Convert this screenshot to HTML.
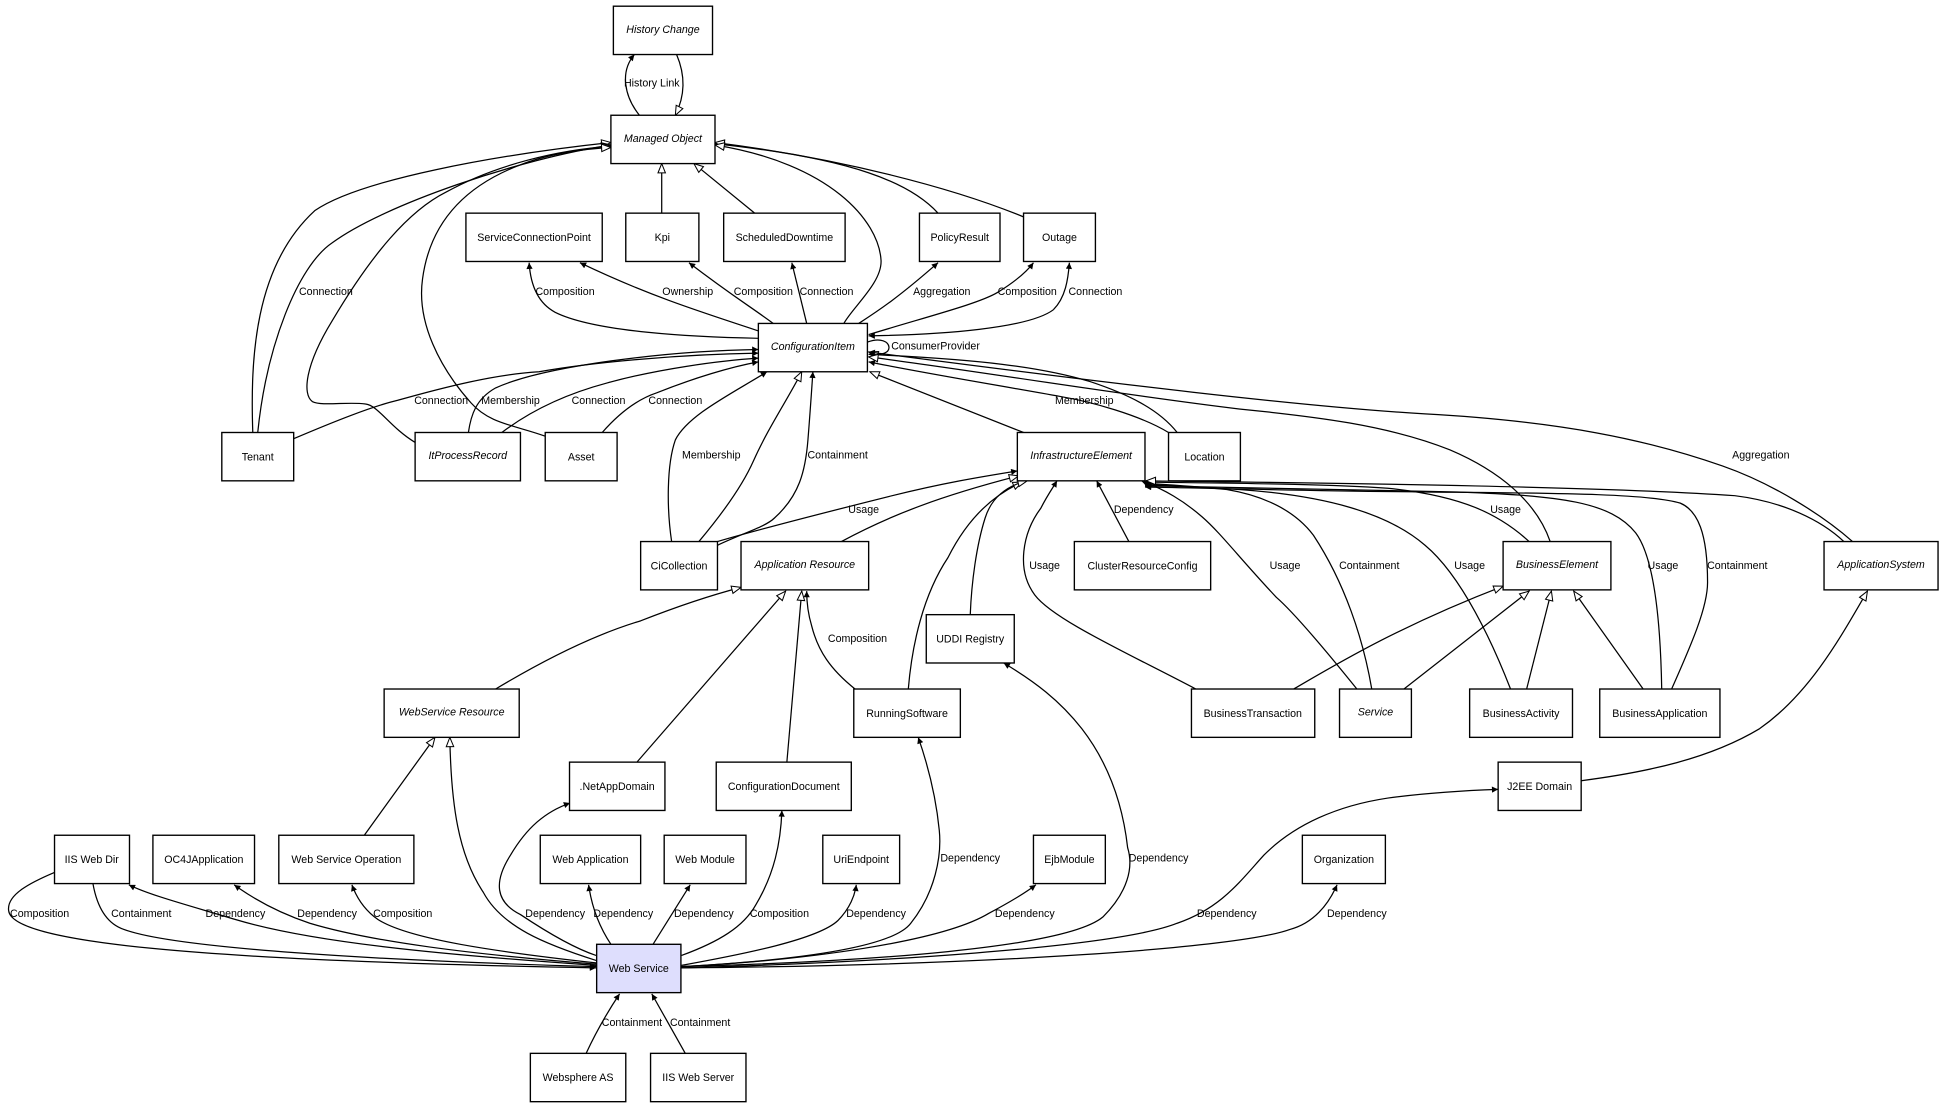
<!DOCTYPE html>
<html><head><meta charset="utf-8"><style>
html,body{margin:0;padding:0;background:#fff;}
svg{display:block;}
</style></head><body>
<svg xmlns="http://www.w3.org/2000/svg" width="1943" height="1108" viewBox="0 0 1568 894.1" preserveAspectRatio="none">
<defs>
<marker id="f" viewBox="0 0 10 10" refX="10" refY="5" markerWidth="6.5" markerHeight="5" markerUnits="userSpaceOnUse" orient="auto"><path d="M0,0 L10,5 L0,10 z" fill="#000"/></marker>
<marker id="h" viewBox="0 0 12 10" refX="11" refY="5" markerWidth="11" markerHeight="7.5" markerUnits="userSpaceOnUse" orient="auto"><path d="M1,1 L11,5 L1,9 z" fill="#fff" stroke="#000" stroke-width="1.1"/></marker>
</defs>
<rect x="0" y="0" width="1568" height="894.1" fill="#fff"/>
<g fill="none" stroke="#000" stroke-width="1">
<!-- top -->
<path d="M516,93 C504,78 500,58 512,44" marker-end="url(#f)"/>
<path d="M546,44 C552,58 554,75 545,93" marker-end="url(#h)"/>
<path d="M534,172 L534,132" marker-end="url(#h)"/>
<path d="M609,172 L560,132" marker-end="url(#h)"/>
<path d="M757,172 C735,148 690,128 577,116" marker-end="url(#h)"/>
<path d="M826,175 C770,152 680,128 577,115" marker-end="url(#h)"/>
<path d="M681,261 C688,248 712,228 711,210 C709,178 670,132 577,117" marker-end="url(#h)"/>
<path d="M204,349 C202,290 205,215 254,170 C290,145 400,125 493,115" marker-end="url(#h)"/>
<path d="M208,349 C215,280 240,215 268,196 C310,165 420,128 493,117" marker-end="url(#h)"/>
<path d="M335,357 C315,345 305,327 295,326 C280,324 260,328 252,324 C244,318 246,295 268,259 C300,205 330,170 360,155 C400,133 450,121 493,118" marker-end="url(#h)"/>
<path d="M440,352 C415,343 395,342 380,325 C355,297 336,260 341,225 C347,180 375,150 420,133 C440,125 470,120 493,119" marker-end="url(#h)"/>
<!-- CI up -->
<path d="M612,273 C560,272 480,268 448,252 C433,244 428,228 427,212" marker-end="url(#f)"/>
<path d="M612,267 C560,250 520,237 468,212" marker-end="url(#f)"/>
<path d="M624,261 C605,247 590,238 556,212" marker-end="url(#f)"/>
<path d="M651,261 L639,212" marker-end="url(#f)"/>
<path d="M693,261 C710,250 725,240 757,212" marker-end="url(#f)"/>
<path d="M701,270 C750,255 790,245 805,236 C818,228 828,220 834,212" marker-end="url(#f)"/>
<path d="M850,250 C830,265 760,270 701,271" marker-end="url(#f)"/>
<path d="M850,250 C860,240 862,225 863,212" marker-end="url(#f)"/>
<path d="M700,276 C722,268 724,292 701,284" marker-end="url(#h)"/>
<!-- into CI left -->
<path d="M237,354 C270,340 300,328 321,323 C360,312 400,302 435,300 C480,292 550,286 612,285" marker-end="url(#f)"/>
<path d="M378,349 C380,335 384,322 400,313 C440,295 540,283 612,282" marker-end="url(#f)"/>
<path d="M405,349 C430,330 460,317 490,309 C530,298 580,291 612,289" marker-end="url(#f)"/>
<path d="M486,349 C500,333 515,322 530,317 C560,305 590,296 612,292" marker-end="url(#f)"/>
<!-- into CI bottom -->
<path d="M542,437 C538,410 538,375 545,355 C555,335 590,318 619,300" marker-end="url(#f)"/>
<path d="M564,437 C585,412 600,390 608,372 C620,345 637,320 647,300" marker-end="url(#h)"/>
<path d="M579,440 C600,430 618,425 625,418 C645,400 650,380 652,355 C654,330 655,315 656,300" marker-end="url(#f)"/>
<path d="M826,349 L702,300" marker-end="url(#h)"/>
<!-- into CI right -->
<path d="M943,349 C920,335 880,324 856,320 C800,310 740,300 701,292" marker-end="url(#f)"/>
<path d="M950,349 C935,330 910,318 880,308 C840,296 790,290 701,286" marker-end="url(#f)"/>
<path d="M1251,437 C1240,405 1210,380 1170,363 C1120,343 1060,336 1000,330 C900,318 780,298 701,288" marker-end="url(#h)"/>
<path d="M1495,437 C1470,415 1430,390 1390,376 C1330,355 1260,340 1150,334 C1050,328 900,310 701,284" marker-end="url(#f)"/>
<!-- into IE -->
<path d="M579,437 C620,425 680,410 720,400 C760,390 790,385 821,380" marker-end="url(#f)"/>
<path d="M679,437 C720,415 760,400 822,384" marker-end="url(#h)"/>
<path d="M733,556 C736,520 745,480 765,450 C780,420 800,400 825,389" marker-end="url(#h)"/>
<path d="M783,496 C784,470 788,440 795,418 C800,402 812,392 829,388" marker-end="url(#h)"/>
<path d="M965,556 C910,527 850,500 835,480 C820,460 825,430 840,410 C845,400 850,393 853,388" marker-end="url(#f)"/>
<path d="M911,437 L885,388" marker-end="url(#f)"/>
<path d="M1095,556 C1070,525 1045,495 1030,482 C1000,450 985,430 970,417 C955,404 940,395 921,388" marker-end="url(#f)"/>
<path d="M1107,556 C1100,515 1085,470 1060,432 C1045,412 1020,400 990,395 C960,392 940,391 924,390" marker-end="url(#f)"/>
<path d="M1219,556 C1205,520 1180,465 1150,440 C1120,414 1070,400 1000,395 C960,393 940,392 924,391" marker-end="url(#f)"/>
<path d="M1234,437 C1210,415 1180,400 1120,394 C1060,390 980,390 924,389" marker-end="url(#f)"/>
<path d="M1341,556 C1340,500 1335,450 1320,430 C1300,405 1260,400 1176,397 C1080,395 980,393 924,392" marker-end="url(#f)"/>
<path d="M1349,556 C1365,520 1378,490 1378,470 C1378,430 1370,412 1356,406 C1330,398 1250,398 1150,397 C1050,396 980,394 924,393" marker-end="url(#f)"/>
<path d="M1488,437 C1470,420 1440,405 1400,400 C1300,393 1100,390 925,388" marker-end="url(#h)"/>
<!-- into AR -->
<path d="M400,556 C440,532 480,512 517,501 C545,490 575,480 598,474" marker-end="url(#h)"/>
<path d="M514,615 L634,477" marker-end="url(#h)"/>
<path d="M635,615 L647,477" marker-end="url(#h)"/>
<path d="M690,556 C670,540 660,525 655,505 C652,495 651,485 651,477" marker-end="url(#f)"/>
<!-- into BE / AS -->
<path d="M1044,556 C1080,535 1130,505 1213,473" marker-end="url(#h)"/>
<path d="M1133,556 L1234,477" marker-end="url(#h)"/>
<path d="M1232,556 L1252,477" marker-end="url(#h)"/>
<path d="M1326,556 L1270,477" marker-end="url(#h)"/>
<path d="M1276,630 C1330,623 1380,612 1420,588 C1460,560 1485,515 1507,477" marker-end="url(#h)"/>
<!-- into WSR -->
<path d="M294,674 L351,595" marker-end="url(#h)"/>
<path d="M481,775 C440,762 405,748 390,720 C370,690 364,650 363,595" marker-end="url(#h)"/>
<!-- Web Service edges -->
<path d="M44,704 C25,712 5,722 7,735 C10,760 150,775 481,781" marker-end="url(#f)"/>
<path d="M75,713 C78,730 85,745 100,750 C140,765 300,775 481,780" marker-end="url(#f)"/>
<path d="M481,779 C350,770 250,760 190,742 C150,730 120,722 104,714" marker-end="url(#f)"/>
<path d="M481,778 C380,770 300,760 250,745 C220,735 200,722 189,714" marker-end="url(#f)"/>
<path d="M481,777 C400,768 330,758 305,742 C295,735 288,725 284,714" marker-end="url(#f)"/>
<path d="M481,771 C460,764 435,748 420,738 C400,728 398,712 412,690 C425,668 440,655 460,648" marker-end="url(#f)"/>
<path d="M493,762 C485,750 478,735 475,714" marker-end="url(#f)"/>
<path d="M527,762 L557,714" marker-end="url(#f)"/>
<path d="M550,771 C580,760 600,748 610,730 C625,705 630,680 631,654" marker-end="url(#f)"/>
<path d="M550,779 C600,770 660,758 676,743 C686,733 690,722 691,714" marker-end="url(#f)"/>
<path d="M550,780 C640,775 720,765 735,745 C755,720 760,690 758,670 C755,640 748,615 741,595" marker-end="url(#f)"/>
<path d="M550,780 C650,775 760,760 798,737 C815,728 828,720 836,714" marker-end="url(#f)"/>
<path d="M550,780 C700,776 860,765 890,740 C910,720 915,700 910,684 C905,640 890,610 873,588 C855,565 835,550 810,535" marker-end="url(#f)"/>
<path d="M550,781 C700,777 900,765 950,745 C985,733 1000,712 1020,690 C1045,665 1080,650 1120,644 C1150,640 1180,638 1209,637" marker-end="url(#f)"/>
<path d="M550,781 C800,779 1000,765 1041,750 C1060,745 1072,730 1079,714" marker-end="url(#f)"/>
<path d="M473,850 C480,835 488,820 500,802" marker-end="url(#f)"/>
<path d="M553,850 L526,802" marker-end="url(#f)"/>
</g>

<!-- nodes -->
<g stroke="#000" stroke-width="1.1" fill="#fff">
<rect x="495" y="5" width="80" height="39"/>
<rect x="493" y="93" width="84" height="39"/>
<rect x="376" y="172" width="110" height="39"/>
<rect x="505" y="172" width="59" height="39"/>
<rect x="584" y="172" width="98" height="39"/>
<rect x="742" y="172" width="65" height="39"/>
<rect x="826" y="172" width="58" height="39"/>
<rect x="612" y="261" width="88" height="39"/>
<rect x="179" y="349" width="58" height="39"/>
<rect x="335" y="349" width="85" height="39"/>
<rect x="440" y="349" width="58" height="39"/>
<rect x="821" y="349" width="103" height="39"/>
<rect x="943" y="349" width="58" height="39"/>
<rect x="517" y="437" width="62" height="39"/>
<rect x="598" y="437" width="103" height="39"/>
<rect x="867" y="437" width="110" height="39"/>
<rect x="1213" y="437" width="87" height="39"/>
<rect x="1472" y="437" width="92" height="39"/>
<rect x="747.5" y="496" width="71" height="39"/>
<rect x="310" y="556" width="109" height="39"/>
<rect x="689" y="556" width="86" height="39"/>
<rect x="961.5" y="556" width="99.5" height="39"/>
<rect x="1081" y="556" width="58" height="39"/>
<rect x="1186" y="556" width="83" height="39"/>
<rect x="1291" y="556" width="97" height="39"/>
<rect x="459.6" y="615" width="77" height="39"/>
<rect x="578" y="615" width="109" height="39"/>
<rect x="1209" y="615" width="67" height="39"/>
<rect x="44" y="674" width="60.5" height="39"/>
<rect x="123.4" y="674" width="82" height="39"/>
<rect x="225" y="674" width="109" height="39"/>
<rect x="436" y="674" width="81" height="39"/>
<rect x="536" y="674" width="66" height="39"/>
<rect x="664" y="674" width="62" height="39"/>
<rect x="834" y="674" width="58" height="39"/>
<rect x="1051" y="674" width="67" height="39"/>
<rect x="481.5" y="762" width="68" height="39" fill="#dedefd"/>
<rect x="428" y="850" width="77" height="39"/>
<rect x="525" y="850" width="77" height="39"/>
</g>

<g font-family="Liberation Sans, Arial, sans-serif" font-size="8.6" fill="#000" text-anchor="middle">
<g font-style="italic">
<text x="535" y="26.5">History Change</text>
<text x="535" y="114.5">Managed Object</text>
<text x="656" y="282.5">ConfigurationItem</text>
<text x="377.5" y="370.5">ItProcessRecord</text>
<text x="872.5" y="370.5">InfrastructureElement</text>
<text x="649.5" y="458.5">Application Resource</text>
<text x="1256.5" y="458.5">BusinessElement</text>
<text x="1518" y="458.5">ApplicationSystem</text>
<text x="364.5" y="577.5">WebService Resource</text>
<text x="1110" y="577.5">Service</text>
</g>
<text x="431" y="194.5">ServiceConnectionPoint</text>
<text x="534.5" y="194.5">Kpi</text>
<text x="633" y="194.5">ScheduledDowntime</text>
<text x="774.5" y="194.5">PolicyResult</text>
<text x="855" y="194.5">Outage</text>
<text x="208" y="371.5">Tenant</text>
<text x="469" y="371.5">Asset</text>
<text x="972" y="371.5">Location</text>
<text x="548" y="459.5">CiCollection</text>
<text x="922" y="459.5">ClusterResourceConfig</text>
<text x="783" y="518.5">UDDI Registry</text>
<text x="732" y="578.5">RunningSoftware</text>
<text x="1011" y="578.5">BusinessTransaction</text>
<text x="1227.5" y="578.5">BusinessActivity</text>
<text x="1339.5" y="578.5">BusinessApplication</text>
<text x="498" y="637.5">.NetAppDomain</text>
<text x="632.5" y="637.5">ConfigurationDocument</text>
<text x="1242.5" y="637.5">J2EE Domain</text>
<text x="74" y="696.5">IIS Web Dir</text>
<text x="164.5" y="696.5">OC4JApplication</text>
<text x="279.5" y="696.5">Web Service Operation</text>
<text x="476.5" y="696.5">Web Application</text>
<text x="569" y="696.5">Web Module</text>
<text x="695" y="696.5">UriEndpoint</text>
<text x="863" y="696.5">EjbModule</text>
<text x="1084.5" y="696.5">Organization</text>
<text x="515.5" y="784.5">Web Service</text>
<text x="466.5" y="872.5">Websphere AS</text>
<text x="563.5" y="872.5">IIS Web Server</text>

<!-- edge labels -->
<text x="526" y="70">History Link</text>
<text x="263" y="238">Connection</text>
<text x="456" y="238">Composition</text>
<text x="555" y="238">Ownership</text>
<text x="616" y="238">Composition</text>
<text x="667" y="238">Connection</text>
<text x="760" y="238">Aggregation</text>
<text x="829" y="238">Composition</text>
<text x="884" y="238">Connection</text>
<text x="755" y="282">ConsumerProvider</text>
<text x="356" y="326">Connection</text>
<text x="412" y="326">Membership</text>
<text x="483" y="326">Connection</text>
<text x="545" y="326">Connection</text>
<text x="875" y="326">Membership</text>
<text x="574" y="370">Membership</text>
<text x="676" y="370">Containment</text>
<text x="1421" y="370">Aggregation</text>
<text x="697" y="414">Usage</text>
<text x="923" y="414">Dependency</text>
<text x="1215" y="414">Usage</text>
<text x="843" y="459">Usage</text>
<text x="1037" y="459">Usage</text>
<text x="1105" y="459">Containment</text>
<text x="1186" y="459">Usage</text>
<text x="1342" y="459">Usage</text>
<text x="1402" y="459">Containment</text>
<text x="692" y="518">Composition</text>
<text x="783" y="695">Dependency</text>
<text x="935" y="695">Dependency</text>
<text x="32" y="740">Composition</text>
<text x="114" y="740">Containment</text>
<text x="190" y="740">Dependency</text>
<text x="264" y="740">Dependency</text>
<text x="325" y="740">Composition</text>
<text x="448" y="740">Dependency</text>
<text x="503" y="740">Dependency</text>
<text x="568" y="740">Dependency</text>
<text x="629" y="740">Composition</text>
<text x="707" y="740">Dependency</text>
<text x="827" y="740">Dependency</text>
<text x="990" y="740">Dependency</text>
<text x="1095" y="740">Dependency</text>
<text x="510" y="828">Containment</text>
<text x="565" y="828">Containment</text>
</g>
</svg>
</body></html>
